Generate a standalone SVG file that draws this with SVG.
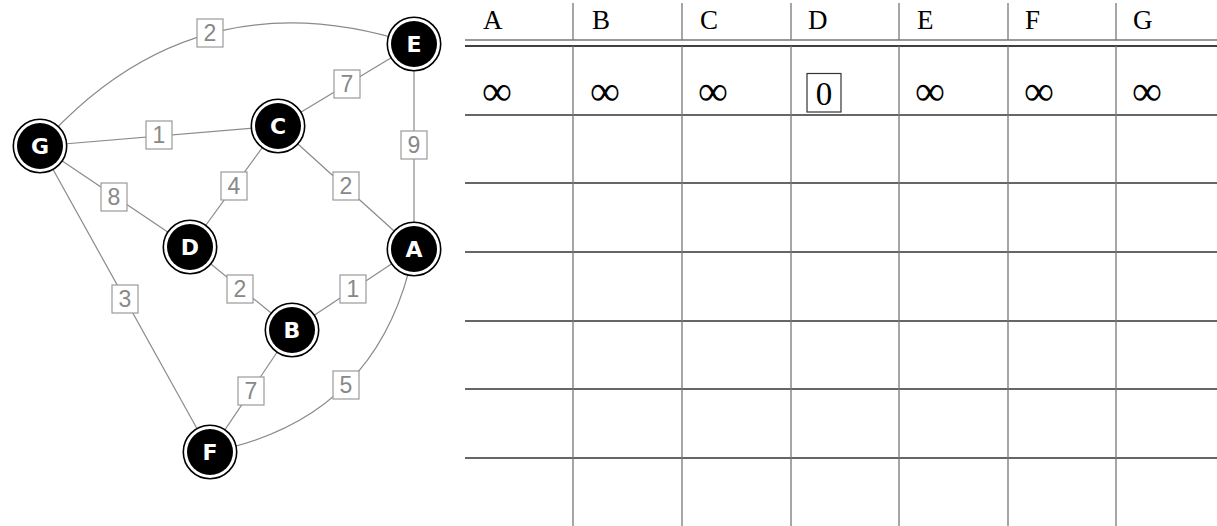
<svg xmlns="http://www.w3.org/2000/svg" width="1217" height="526" viewBox="0 0 1217 526">
<style>
.edge{fill:none;stroke:#8a8a8a;stroke-width:1.2}
.lbox{fill:#fff;stroke:#9a9a9a;stroke-width:1.2}
.ltxt{font-family:"Liberation Sans",Arial,sans-serif;font-size:23px;fill:#888;text-anchor:middle}
.ring{fill:#fff;stroke:#000;stroke-width:1.6}
.core{fill:#000}
.ntxt{font-family:"DejaVu Sans",sans-serif;font-weight:bold;font-size:22px;fill:#fff;text-anchor:middle}
.hl{stroke:#333;stroke-width:1.3}
.vl{stroke:#777;stroke-width:1.3}
.hd{font-family:"Liberation Serif","Times New Roman",serif;font-size:27px;fill:#000}
.inf{font-family:"Liberation Serif",serif;font-size:42px;fill:#000}
</style>
<rect width="1217" height="526" fill="#fff"/>
<g id="connectors">
<path class="edge" d="M40 146 Q193 -28 414 44"/>
<line class="edge" x1="278" y1="126" x2="414" y2="44"/>
<line class="edge" x1="414" y1="44" x2="414" y2="249"/>
<line class="edge" x1="40" y1="146" x2="278" y2="126"/>
<line class="edge" x1="278" y1="126" x2="190" y2="247"/>
<line class="edge" x1="278" y1="126" x2="414" y2="249"/>
<line class="edge" x1="40" y1="146" x2="190" y2="247"/>
<line class="edge" x1="40" y1="146" x2="210" y2="452"/>
<line class="edge" x1="190" y1="247" x2="292" y2="330"/>
<line class="edge" x1="414" y1="249" x2="292" y2="330"/>
<line class="edge" x1="292" y1="330" x2="210" y2="452"/>
<path class="edge" d="M414 249 Q380 419.5 210 452"/>
<g id="labels">
<rect class="lbox" x="197" y="19" width="26" height="28"/><text class="ltxt" x="210" y="41">2</text>
<rect class="lbox" x="334" y="70" width="26" height="28"/><text class="ltxt" x="347" y="92">7</text>
<rect class="lbox" x="401" y="131" width="26" height="28"/><text class="ltxt" x="414" y="153">9</text>
<rect class="lbox" x="146" y="121" width="26" height="28"/><text class="ltxt" x="159" y="143">1</text>
<rect class="lbox" x="221" y="172" width="26" height="28"/><text class="ltxt" x="234" y="194">4</text>
<rect class="lbox" x="333" y="172" width="26" height="28"/><text class="ltxt" x="346" y="194">2</text>
<rect class="lbox" x="101" y="183" width="26" height="28"/><text class="ltxt" x="114" y="205">8</text>
<rect class="lbox" x="112" y="285" width="26" height="28"/><text class="ltxt" x="125" y="307">3</text>
<rect class="lbox" x="227" y="275" width="26" height="28"/><text class="ltxt" x="240" y="297">2</text>
<rect class="lbox" x="340" y="275" width="26" height="28"/><text class="ltxt" x="353" y="297">1</text>
<rect class="lbox" x="238" y="377" width="26" height="28"/><text class="ltxt" x="251" y="399">7</text>
<rect class="lbox" x="333" y="371" width="26" height="28"/><text class="ltxt" x="346" y="393">5</text>
</g>
</g>
<g id="node-E"><circle class="ring" cx="414" cy="44" r="26.7"/><circle class="core" cx="414" cy="44" r="23"/><text class="ntxt" x="414" y="52">E</text></g>
<g id="node-C"><circle class="ring" cx="278" cy="126" r="26.7"/><circle class="core" cx="278" cy="126" r="23"/><text class="ntxt" x="278" y="134">C</text></g>
<g id="node-G"><circle class="ring" cx="40" cy="146" r="26.7"/><circle class="core" cx="40" cy="146" r="23"/><text class="ntxt" x="40" y="154">G</text></g>
<g id="node-D"><circle class="ring" cx="190" cy="247" r="26.7"/><circle class="core" cx="190" cy="247" r="23"/><text class="ntxt" x="190" y="255">D</text></g>
<g id="node-A"><circle class="ring" cx="414" cy="249" r="26.7"/><circle class="core" cx="414" cy="249" r="23"/><text class="ntxt" x="414" y="257">A</text></g>
<g id="node-B"><circle class="ring" cx="292" cy="330" r="26.7"/><circle class="core" cx="292" cy="330" r="23"/><text class="ntxt" x="292" y="338">B</text></g>
<g id="node-F"><circle class="ring" cx="210" cy="452" r="26.7"/><circle class="core" cx="210" cy="452" r="23"/><text class="ntxt" x="210" y="460">F</text></g>
<g id="table">
<line x1="465" y1="40" x2="1217" y2="40" stroke="#777" stroke-width="1.3"/>
<line x1="465" y1="46" x2="1217" y2="46" stroke="#000" stroke-width="1.4"/>
<line class="hl" x1="465" y1="115" x2="1217" y2="115"/>
<line class="hl" x1="465" y1="183" x2="1217" y2="183"/>
<line class="hl" x1="465" y1="252" x2="1217" y2="252"/>
<line class="hl" x1="465" y1="321" x2="1217" y2="321"/>
<line class="hl" x1="465" y1="389" x2="1217" y2="389"/>
<line class="hl" x1="465" y1="458" x2="1217" y2="458"/>
<path class="vl" d="M573 3V40M573 46V526M682 3V40M682 46V526M791 3V40M791 46V526M899 3V40M899 46V526M1008 3V40M1008 46V526M1116 3V40M1116 46V526"/>
<text class="hd" x="483" y="29">A</text>
<text class="hd" x="592" y="29">B</text>
<text class="hd" x="700" y="29">C</text>
<text class="hd" x="808" y="29">D</text>
<text class="hd" x="917" y="29">E</text>
<text class="hd" x="1025" y="29">F</text>
<text class="hd" x="1133" y="29">G</text>
<text class="inf" x="482" y="105">∞</text>
<text class="inf" x="590" y="105">∞</text>
<text class="inf" x="698" y="105">∞</text>
<rect x="807" y="73.5" width="34" height="38.5" fill="none" stroke="#333" stroke-width="1.2"/>
<text x="824" y="105" font-family="Liberation Serif,serif" font-size="33" text-anchor="middle">0</text>
<text class="inf" x="915" y="105">∞</text>
<text class="inf" x="1024" y="105">∞</text>
<text class="inf" x="1132" y="105">∞</text>
</g>
</svg>
